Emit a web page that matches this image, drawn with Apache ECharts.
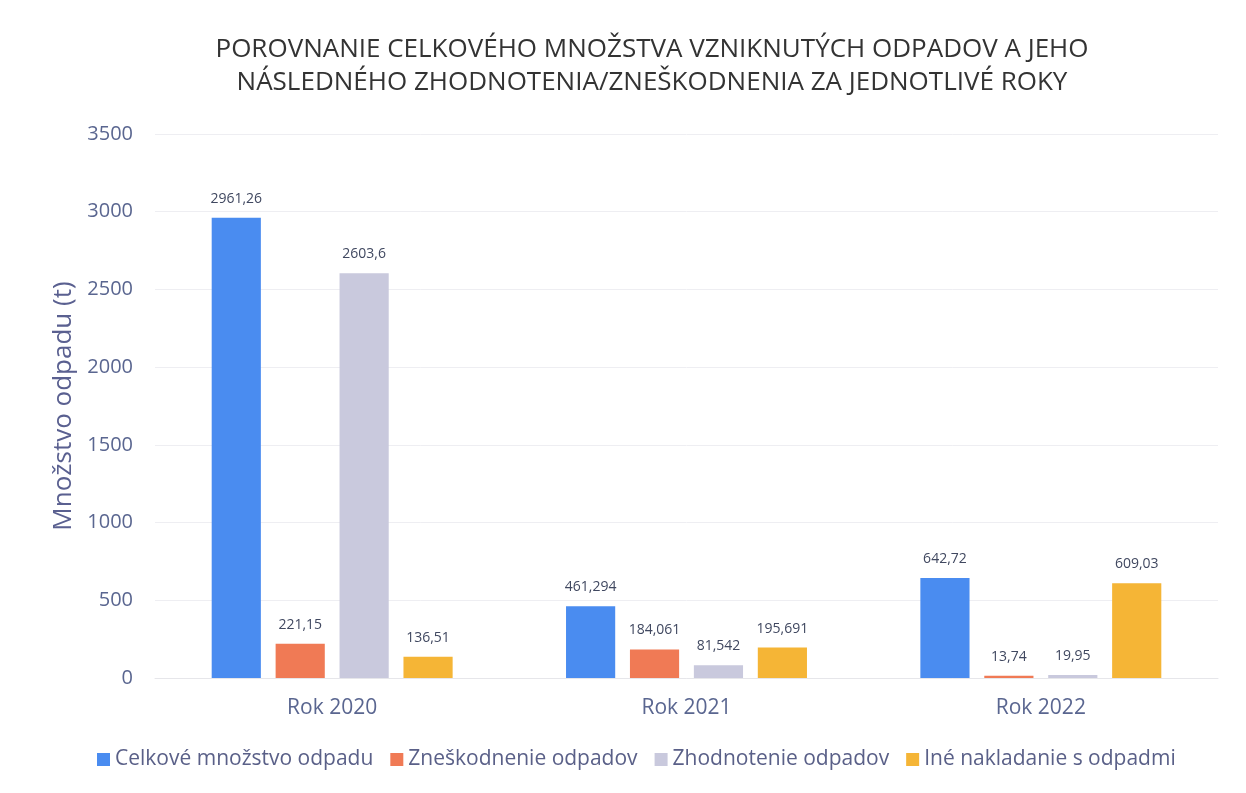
<!DOCTYPE html>
<html>
<head>
<meta charset="utf-8">
<script src="https://cdn.jsdelivr.net/npm/echarts@6/dist/echarts.min.js"></script>
<style>
  html, body { margin: 0; padding: 0; background: #fff; }
  #chart { width: 1246px; height: 793px; }
</style>
</head>
<body>
<div id="chart"></div>
<script>
// kategórie a hodnoty
var roky = ['Rok 2020', 'Rok 2021', 'Rok 2022'];
var celkove = [2961.26, 461.294, 642.72];
var zneskodnenie = [221.15, 184.061, 13.74];
var zhodnotenie = [2603.6, 81.542, 19.95];
var ine = [136.51, 195.691, 609.03];
var nazvySerii = ['Celkové množstvo odpadu', 'Zneškodnenie odpadov', 'Zhodnotenie odpadov', 'Iné nakladanie s odpadmi'];
var farby = ['#4a8cf0', '#f07a55', '#c9c9dd', '#f5b536'];

var chart = echarts.init(document.getElementById('chart'));

// popisky s desatinnou čiarkou
function popis(p) {
    return String(p.value).replace('.', ',');
}

function seria(i, data) {
    return {
        name: nazvySerii[i],
        type: 'bar',
        data: data,
        barGap: '30%',
        barCategoryGap: '32%',
        itemStyle: { color: farby[i] },
        label: {
            show: true,
            position: 'top',
            distance: 12,
            formatter: popis,
            color: '#404860',
            fontSize: 14,
            fontFamily: 'Open Sans'
        }
    };
}

var option = {
    backgroundColor: '#fff',
    title: {
        text: 'POROVNANIE CELKOVÉHO MNOŽSTVA VZNIKNUTÝCH ODPADOV A JEHO\nNÁSLEDNÉHO ZHODNOTENIA/ZNEŠKODNENIA ZA JEDNOTLIVÉ ROKY',
        left: 647,
        top: 28,
        textAlign: 'center',
        textStyle: {
            color: '#333',
            fontSize: 26,
            fontWeight: 'normal',
            fontFamily: 'Open Sans',
            lineHeight: 33
        }
    },
    legend: {
        bottom: 18,
        left: 92,
        itemWidth: 13,
        itemHeight: 13,
        itemGap: 17,
        icon: 'rect',
        textStyle: { color: '#5a6088', fontSize: 21, fontFamily: 'Open Sans' },
        data: nazvySerii
    },
    grid: { left: 155, right: 28, top: 134, bottom: 115 },
    xAxis: {
        type: 'category',
        data: roky,
        axisLine: { lineStyle: { color: '#e6e6ea' } },
        axisTick: { show: false },
        axisLabel: { color: '#5a6690', fontSize: 21, margin: 20, fontFamily: 'Open Sans' }
    },
    yAxis: {
        type: 'value',
        min: 0,
        max: 3500,
        interval: 500,
        name: 'Množstvo odpadu (t)',
        nameLocation: 'middle',
        nameGap: 78,
        nameTextStyle: { color: '#5a6090', fontSize: 26, fontFamily: 'Open Sans' },
        axisLine: { show: false },
        axisTick: { show: false },
        axisLabel: {
            color: '#5a6690',
            fontSize: 20,
            margin: 22,
            fontFamily: 'Open Sans',
            formatter: function (v) { return String(v); }
        },
        splitLine: { lineStyle: { color: '#eeeef2' } }
    },
    series: [
        seria(0, celkove),
        seria(1, zneskodnenie),
        seria(2, zhodnotenie),
        seria(3, ine)
    ]
};

chart.setOption(option);
</script>
</body>
</html>
